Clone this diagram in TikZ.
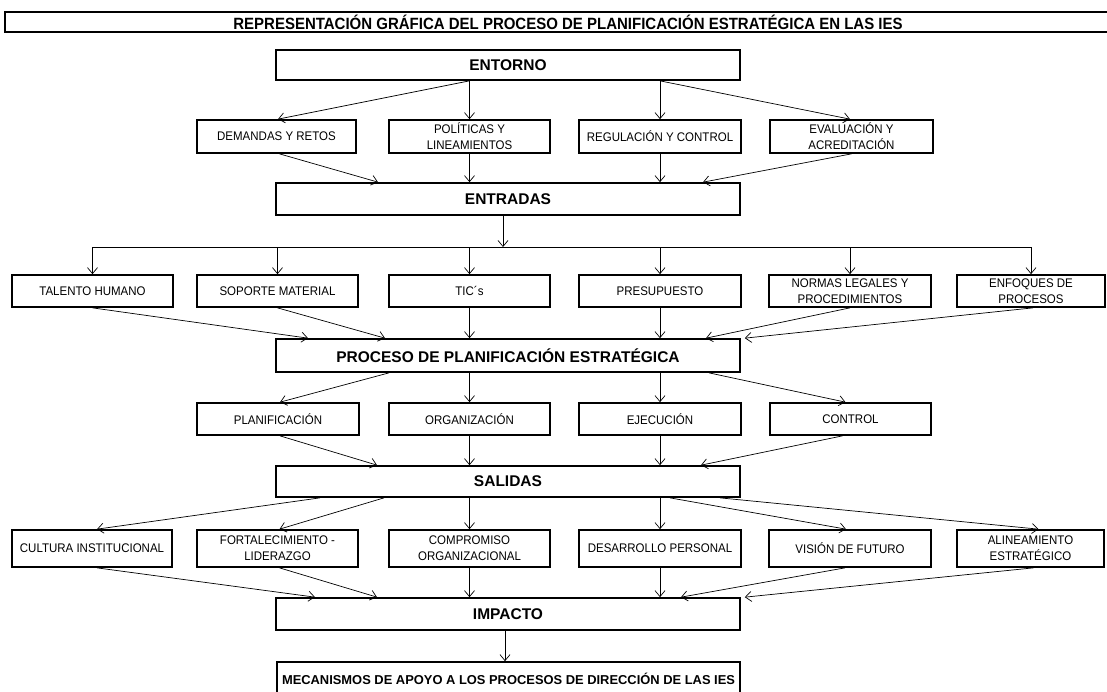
\documentclass[tikz,border=0pt]{standalone}
\usepackage{fontspec}
\setmainfont{Liberation Sans}
\newfontfamily\narrowfont[FakeStretch=0.92]{Liberation Sans}
\usetikzlibrary{arrows.meta,calc}
\begin{document}
\begin{tikzpicture}[x=1pt,y=-1pt,
  box/.style={draw, line width=1.7pt, inner sep=0pt, align=center, font=\narrowfont\fontsize{12.5}{16}\selectfont},
  bigbox/.style={box, minimum width=464pt, font=\fontsize{15.5}{18}\bfseries},
  smallbox/.style={box, minimum width=161pt},
  arr/.style={-{Straight Barb[length=6pt,width=10pt]}, line width=0.7pt},
  plain/.style={line width=0.7pt}]
\useasboundingbox (0,0) rectangle (1107,691);
\fill[white] (0,0) rectangle (1107,691);
% title
\draw[line width=1.7pt] (1110,12) -- (5,12) -- (5,32) -- (1110,32);
\node[font=\narrowfont\fontsize{16.3}{18}\bfseries] (title) at (568,22) {REPRESENTACIÓN GRÁFICA DEL PROCESO DE PLANIFICACIÓN ESTRATÉGICA EN LAS IES};
% main boxes
\node[bigbox, minimum height=30pt] (entorno) at (508,65) {ENTORNO};
\node[bigbox, minimum height=32pt] (entradas) at (508,199) {ENTRADAS};
\node[bigbox, minimum height=33pt] (proceso) at (508,355.5) {PROCESO DE PLANIFICACIÓN ESTRATÉGICA};
\node[bigbox, minimum height=31pt] (salidas) at (508,481.5) {SALIDAS};
\node[bigbox, minimum height=32pt] (impacto) at (508,614) {IMPACTO};
\node[box, minimum width=463pt, minimum height=33pt, font=\fontsize{12.9}{15}\bfseries] (mecanismos) at (508.5,678.5) {MECANISMOS DE APOYO A LOS PROCESOS DE DIRECCIÓN DE LAS IES};
% row 1
\node[smallbox, minimum width=159pt, minimum height=33pt] (d1) at (276.5,136.5) {DEMANDAS Y RETOS};
\node[smallbox, minimum height=33pt] (d2) at (469.5,136.5) {POLÍTICAS Y\\LINEAMIENTOS};
\node[smallbox, minimum width=162pt, minimum height=33pt] (d3) at (660,136.5) {REGULACIÓN Y CONTROL};
\node[smallbox, minimum width=163pt, minimum height=33pt] (d4) at (851.5,136.5) {EVALUACIÓN Y\\ACREDITACIÓN};
% row 2
\node[smallbox, minimum height=32pt] (e1) at (92.5,291) {TALENTO HUMANO};
\node[smallbox, minimum height=32pt] (e2) at (277.5,291) {SOPORTE MATERIAL};
\node[smallbox, minimum height=32pt] (e3) at (469.5,291) {TIC´s};
\node[smallbox, minimum width=162pt, minimum height=32pt] (e4) at (660,291) {PRESUPUESTO};
\node[smallbox, minimum width=162pt, minimum height=32pt] (e5) at (850,291) {NORMAS LEGALES Y\\PROCEDIMIENTOS};
\node[smallbox, minimum width=148pt, minimum height=32pt] (e6) at (1031,291) {ENFOQUES DE\\PROCESOS};
% row 3
\node[smallbox, minimum width=162pt, minimum height=32pt] (p1) at (278,419) {PLANIFICACIÓN};
\node[smallbox, minimum height=32pt] (p2) at (469.5,419) {ORGANIZACIÓN};
\node[smallbox, minimum width=162pt, minimum height=32pt] (p3) at (660,419) {EJECUCIÓN};
\node[smallbox, minimum height=32pt] (p4) at (850.5,419) {CONTROL};
% row 5
\node[smallbox, minimum width=160pt, minimum height=37pt] (s1) at (92,548.5) {CULTURA INSTITUCIONAL};
\node[smallbox, minimum height=37pt] (s2) at (277.5,548.5) {FORTALECIMIENTO -\\LIDERAZGO};
\node[smallbox, minimum height=37pt] (s3) at (469.5,548.5) {COMPROMISO\\ORGANIZACIONAL};
\node[smallbox, minimum width=162pt, minimum height=37pt] (s4) at (660,548.5) {DESARROLLO PERSONAL};
\node[smallbox, minimum width=162pt, minimum height=37pt] (s5) at (850,548.5) {VISIÓN DE FUTURO};
\node[smallbox, minimum width=147pt, minimum height=37pt] (s6) at (1030.5,548.5) {ALINEAMIENTO\\ESTRATÉGICO};
% entorno -> row 1
\draw[arr] (entorno.south -| d2) -- ([xshift=1.5pt]d1.north);
\draw[arr] (entorno.south -| d2) -- (d2.north);
\draw[arr] (entorno.south -| d3) -- (d3.north);
\draw[arr] (entorno.south -| d3) -- ([xshift=-1.5pt]d4.north);
% row 1 -> entradas
\draw[arr] ([xshift=3pt]d1.south) -- ([xshift=-130pt]entradas.north);
\draw[arr] (d2.south) -- (entradas.north -| d2);
\draw[arr] (d3.south) -- (entradas.north -| d3);
\draw[arr] (d4.south) -- ([xshift=195pt]entradas.north);
% entradas -> bus
\coordinate (bus) at (503,247);
\draw[arr] (entradas.south -| bus) -- (bus);
\draw[plain] (bus -| e1) -- (bus -| e6);
\draw[arr] (bus -| e1) -- (e1.north);
\draw[arr] (bus -| e2) -- (e2.north);
\draw[arr] (bus -| e3) -- (e3.north);
\draw[arr] (bus -| e4) -- (e4.north);
\draw[arr] (bus -| e5) -- (e5.north);
\draw[arr] (bus -| e6) -- (e6.north);
% row 2 -> proceso
\draw[arr] (e1.south) -- ([xshift=-200pt]proceso.north);
\draw[arr] (e2.south) -- ([xshift=-123pt]proceso.north);
\draw[arr] (e3.south) -- (proceso.north -| e3);
\draw[arr] (e4.south) -- (proceso.north -| e4);
\draw[arr] (e5.south) -- ([xshift=198pt]proceso.north);
\draw[arr] ([xshift=2pt]e6.south) -- ([xshift=4pt]proceso.north east);
% proceso -> row 3
\draw[arr] ([xshift=-119pt]proceso.south) -- ([xshift=2pt]p1.north);
\draw[arr] (proceso.south -| p2) -- (p2.north);
\draw[arr] (proceso.south -| p3) -- (p3.north);
\draw[arr] ([xshift=201pt]proceso.south) -- ([xshift=-5pt]p4.north);
% row 3 -> salidas
\draw[arr] ([xshift=2pt]p1.south) -- ([xshift=-131pt]salidas.north);
\draw[arr] (p2.south) -- (salidas.north -| p2);
\draw[arr] (p3.south) -- (salidas.north -| p3);
\draw[arr] ([xshift=-8pt]p4.south) -- ([xshift=193pt]salidas.north);
% salidas -> row 5
\draw[arr] ([xshift=-188pt]salidas.south) -- ([xshift=5pt]s1.north);
\draw[arr] ([xshift=-124pt]salidas.south) -- ([xshift=2pt]s2.north);
\draw[arr] (salidas.south -| s3) -- (s3.north);
\draw[arr] (salidas.south -| s4) -- (s4.north);
\draw[arr] ([xshift=162pt]salidas.south) -- ([xshift=-4pt]s5.north);
\draw[arr] ([xshift=212pt]salidas.south) -- ([xshift=8pt]s6.north);
% row 5 -> impacto
\draw[arr] ([xshift=5pt]s1.south) -- ([xshift=-193pt]impacto.north);
\draw[arr] ([xshift=2pt]s2.south) -- ([xshift=-131pt]impacto.north);
\draw[arr] (s3.south) -- (impacto.north -| s3);
\draw[arr] (s4.south) -- (impacto.north -| s4);
\draw[arr] ([xshift=-5pt]s5.south) -- ([xshift=173pt]impacto.north);
\draw[arr] ([xshift=3pt]s6.south) -- ([xshift=4pt]impacto.north east);
% impacto -> mecanismos
\draw[arr] ([xshift=-3pt]impacto.south) -- ([xshift=-3.5pt]mecanismos.north);
\end{tikzpicture}
\end{document}
